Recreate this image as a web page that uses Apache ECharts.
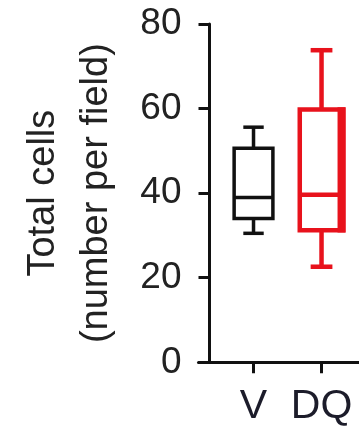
<!DOCTYPE html>
<html>
<head>
<meta charset="utf-8">
<script src="https://cdn.jsdelivr.net/npm/echarts@6/dist/echarts.min.js"></script>
<style>html,body{margin:0;padding:0;background:#fff;}#c{width:359px;height:429px;}</style>
</head>
<body>
<div id="c"></div>
<script>
const categories = ['V', 'DQ'];
// [min, Q1, median, Q3, max]
const boxV = [30.5, 34, 39, 50.6, 55.6];
const boxDQ = [22.6, 31.2, 39.6, 59.8, 73.8];
const yTicks = [0, 20, 40, 60, 80];

function makeRender(boxW, capW, lw, rightLw) {
  return function (params, api) {
    const x = api.value(0);
    const unit = api.size([1, 0])[0];
    const lo = api.coord([x, api.value(1)]);
    const q1 = api.coord([x, api.value(2)]);
    const md = api.coord([x, api.value(3)]);
    const q3 = api.coord([x, api.value(4)]);
    const hi = api.coord([x, api.value(5)]);
    const cx = lo[0];
    const hb = unit * boxW / 2, hc = unit * capW / 2;
    const color = api.visual('color');
    const st = { stroke: color, lineWidth: lw, fill: null };
    const children = [
      { type: 'line', shape: { x1: cx, y1: q3[1], x2: cx, y2: hi[1] }, style: st },
      { type: 'line', shape: { x1: cx, y1: q1[1], x2: cx, y2: lo[1] }, style: st },
      { type: 'line', shape: { x1: cx - hc, y1: hi[1], x2: cx + hc, y2: hi[1] }, style: st },
      { type: 'line', shape: { x1: cx - hc, y1: lo[1], x2: cx + hc, y2: lo[1] }, style: st },
      { type: 'rect', shape: { x: cx - hb, y: q3[1], width: 2 * hb, height: q1[1] - q3[1] }, style: { stroke: color, lineWidth: lw, fill: '#fff' } },
      { type: 'line', shape: { x1: cx - hb, y1: md[1], x2: cx + hb, y2: md[1] }, style: st }
    ];
    if (rightLw) {
      children.push({ type: 'line', shape: { x1: cx + hb - (rightLw - lw) / 2, y1: q3[1] - lw / 2, x2: cx + hb - (rightLw - lw) / 2, y2: q1[1] + lw / 2 }, style: { stroke: color, lineWidth: rightLw } });
    }
    return { type: 'group', children: children };
  };
}

const chart = echarts.init(document.getElementById('c'), null, { renderer: 'canvas' });
const fontFam = '"Liberation Sans", Arial, sans-serif';
chart.setOption({
  animation: false,
  backgroundColor: '#fff',
  grid: { left: 198.5, right: 0, top: 24, bottom: 66.7 },
  xAxis: {
    type: 'value',
    min: -0.809,
    max: 1.551,
    splitLine: { show: false },
    axisLine: { show: true, onZero: false, lineStyle: { color: '#111', width: 3 } },
    axisTick: { show: true, customValues: [0, 1], length: 11, lineStyle: { color: '#111', width: 3 } },
    axisLabel: {
      customValues: [0, 1],
      formatter: v => categories[Math.round(v)],
      fontSize: 41, fontFamily: fontFam, color: '#1c1c2a', margin: 24
    }
  },
  yAxis: {
    type: 'value',
    min: 0, max: 80, interval: 20,
    offset: -11,
    splitLine: { show: false },
    axisLine: { show: true, onZero: false, lineStyle: { color: '#111', width: 3 } },
    axisTick: { show: true, length: 11, lineStyle: { color: '#111', width: 3 } },
    axisLabel: { fontSize: 37, fontFamily: fontFam, color: '#222', margin: 28,
      customValues: yTicks },
    name: 'Total cells\n(number per field)',
    nameLocation: 'middle',
    nameGap: 86,
    nameTextStyle: { fontSize: 38, fontFamily: fontFam, color: '#222', lineHeight: 53 }
  },
  series: [
    {
      type: 'custom',
      renderItem: makeRender(0.57, 0.3, 3.5, 0),
      itemStyle: { color: '#111' },
      encode: { x: 0, y: [1, 2, 3, 4, 5] },
      data: [[0].concat(boxV)]
    },
    {
      type: 'custom',
      renderItem: makeRender(0.64, 0.32, 4.5, 8),
      itemStyle: { color: '#e8121c' },
      encode: { x: 0, y: [1, 2, 3, 4, 5] },
      data: [[1].concat(boxDQ)]
    }
  ]
});
</script>
</body>
</html>
